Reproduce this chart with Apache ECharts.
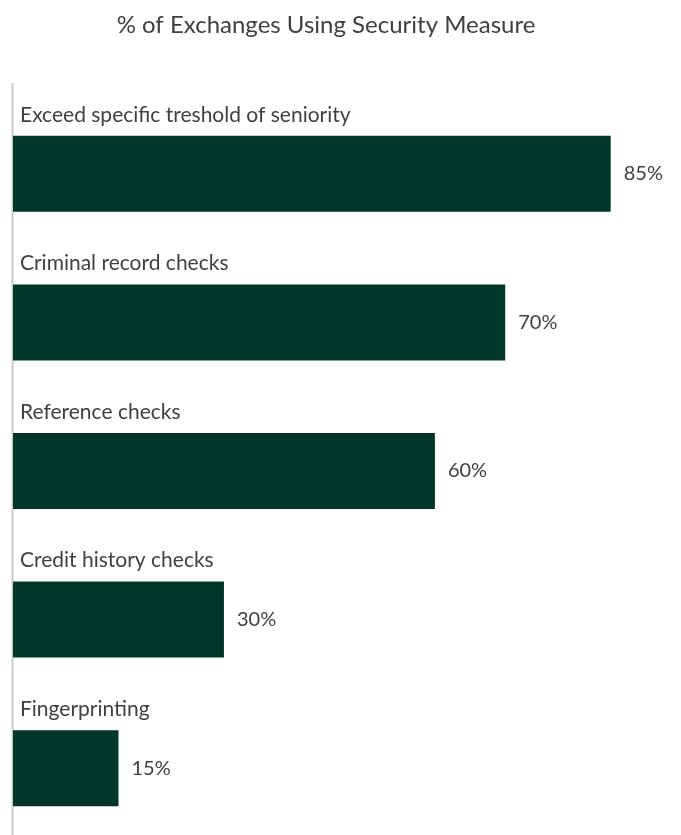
<!DOCTYPE html>
<html><head><meta charset="utf-8">
<script src="https://cdn.jsdelivr.net/npm/echarts@6/dist/echarts.min.js"></script>
<style>html,body{margin:0;padding:0;background:#fff}#c{width:681px;height:835px}</style>
</head><body><div id="c"></div>
<script>
const categories = ["Exceed specific treshold of seniority","Criminal record checks","Reference checks","Credit history checks","Fingerprinting"];
const values = [85,70,60,30,15];
const chart = echarts.init(document.getElementById('c'));
chart.setOption({
  animation:false,
  title:{text:'% of Exchanges Using Security Measure',left:321,textAlign:'center',top:8,
    textStyle:{fontFamily:'Lato',fontWeight:'normal',fontSize:24,color:'#404040'}},
  grid:{left:13,top:99.5,height:743,width:668,outerBoundsMode:'none',containLabel:false},
  xAxis:{type:'value',min:0,max:95,show:false},
  yAxis:{type:'category',data:categories,inverse:true,
    axisLine:{show:false},axisTick:{show:false},axisLabel:{show:false}},
  graphic:[{type:'line',shape:{x1:12.5,y1:83,x2:12.5,y2:835},style:{stroke:'#cccccc',lineWidth:2},silent:true}],
  series:[
    {type:'bar',data:values,barWidth:76,itemStyle:{color:'#02362a'},
      label:{show:true,position:'right',distance:13,formatter:'{c}%',fontFamily:'Lato',fontSize:20,color:'#404040'}},
    {type:'bar',data:values,barWidth:76,barGap:'-100%',silent:true,itemStyle:{color:'rgba(0,0,0,0)'},
      label:{show:true,position:[7,-21],verticalAlign:'middle',align:'left',formatter:'{b}',fontFamily:'Lato',fontSize:21,color:'#404040'}}
  ]
});
</script></body></html>
